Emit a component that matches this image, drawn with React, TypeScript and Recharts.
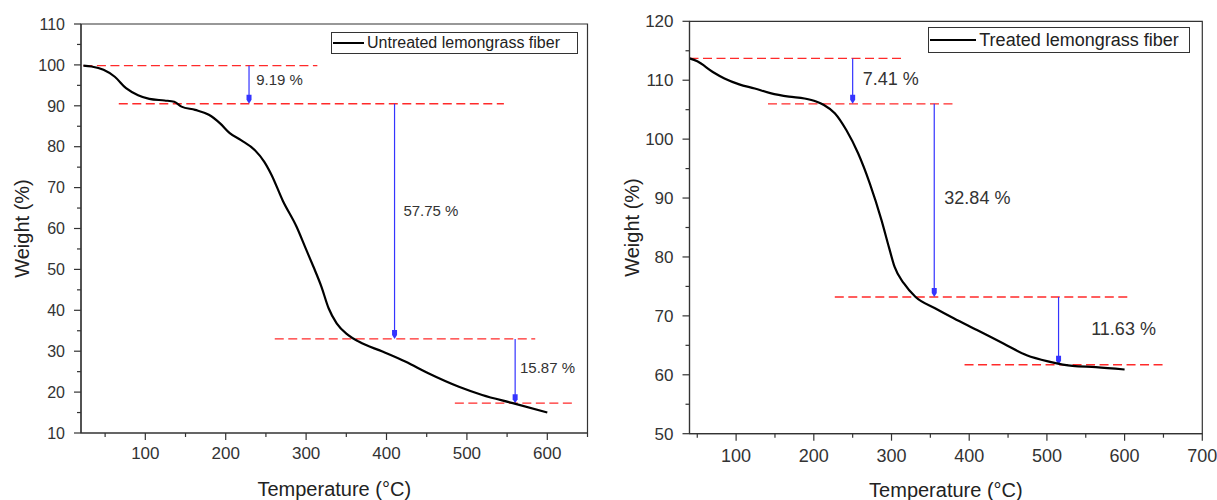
import React from 'react';
import {
  LineChart,
  Line,
  XAxis,
  YAxis,
  ReferenceLine,
  ReferenceArea,
  ReferenceDot,
  Legend,
} from 'recharts';

const FONT = '"Liberation Sans", Arial, Helvetica, sans-serif';
const AXIS = '#333';
const TEXT = '#333';
const RED = '#ff2a2a';
const BLUE = '#3434ff';

// ---- untreated fiber (left panel) ----
const untreatedTemp = [23, 33, 48, 62, 76, 91, 105, 124, 136, 145, 162, 179, 193, 205, 219, 236, 248, 257, 271, 288, 300, 309, 319, 328, 338, 352, 366, 395, 424, 452, 490, 519, 557, 600];
const untreatedWeight = [99.8, 99.6, 98.8, 97.1, 94.3, 92.6, 91.7, 91.3, 91.0, 89.8, 89.0, 87.8, 85.7, 83.3, 81.6, 79.2, 76.3, 73.1, 66.8, 60.5, 54.9, 50.7, 45.8, 40.5, 36.8, 34.0, 32.3, 29.9, 27.4, 24.6, 21.3, 19.3, 17.3, 15.0];
const untreatedLevels = [99.8, 90.5, 33.0, 17.3];
const untreatedLevelFrom = [23, 67, 261, 485];
const untreatedLevelTo = [314, 546, 585, 633];
const untreatedArrowTemp = [229, 410, 560];
const untreatedLoss = ['9.19 %', '57.75 %', '15.87 %'];
const untreatedLossTemp = [238, 421, 566];
const untreatedLossWeight = [96.3, 64.4, 25.9];
const untreatedXTicks = [50, 100, 150, 200, 250, 300, 350, 400, 450, 500, 550, 600, 650];
const untreatedYTicks = [10, 15, 20, 25, 30, 35, 40, 45, 50, 55, 60, 65, 70, 75, 80, 85, 90, 95, 100, 105, 110];

// ---- treated fiber (right panel) ----
const treatedTemp = [40, 50, 70, 85, 104, 124, 144, 168, 188, 203, 213, 227, 242, 257, 272, 287, 297, 304, 316, 331, 356, 380, 410, 444, 474, 504, 533, 563, 600];
const treatedWeight = [113.7, 113.2, 111.4, 110.3, 109.3, 108.6, 107.8, 107.2, 106.9, 106.4, 105.8, 104.4, 101.5, 97.6, 92.5, 86.3, 81.5, 78.3, 75.5, 73.2, 71.3, 69.6, 67.6, 65.3, 63.3, 62.2, 61.5, 61.3, 60.9];
const treatedLevels = [113.7, 106.0, 73.2, 61.7];
const treatedLevelFrom = [40, 141, 227, 394];
const treatedLevelTo = [316, 380, 607, 651];
const treatedArrowTemp = [250, 355, 515];
const treatedLoss = ['7.41 %', '32.84 %', '11.63 %'];
const treatedLossTemp = [263, 368, 557];
const treatedLossWeight = [110.2, 90, 67.75];
const treatedXTicks = [50, 100, 150, 200, 250, 300, 350, 400, 450, 500, 550, 600, 650, 700];
const treatedYTicks = [50, 55, 60, 65, 70, 75, 80, 85, 90, 95, 100, 105, 110, 115, 120];

function XTick({ x, y, payload, fontSize, base }: any) {
  const major = payload.value % 100 === 0;
  return (
    <g>
      <line x1={x} x2={x} y1={y} y2={y + (major ? 7 : 4)} stroke={AXIS} strokeWidth={1.2} />
      {major ? (
        <text x={x} y={y + base} textAnchor="middle" fontSize={fontSize} fontFamily={FONT} fill={TEXT}>
          {payload.value}
        </text>
      ) : null}
    </g>
  );
}

function YTick({ x, y, payload, fontSize }: any) {
  const major = payload.value % 10 === 0;
  return (
    <g>
      <line x1={x} x2={x - (major ? 7 : 4)} y1={y} y2={y} stroke={AXIS} strokeWidth={1.2} />
      {major ? (
        <text x={x - 16} y={y} dy="0.36em" textAnchor="end" fontSize={fontSize} fontFamily={FONT} fill={TEXT}>
          {payload.value}
        </text>
      ) : null}
    </g>
  );
}

// vertical blue arrow, head at the lower level
function Arrow({ x1, y1, x2, y2 }: any) {
  return (
    <g>
      <line x1={x1} y1={y1} x2={x2} y2={y2 - 4} stroke={BLUE} strokeWidth={1.2} />
      <polygon points={`${x2 - 2.5},${y2 - 9} ${x2 + 2.5},${y2 - 9} ${x2 + 2.5},${y2 - 4} ${x2},${y2} ${x2 - 2.5},${y2 - 4}`} fill={BLUE} />
    </g>
  );
}

function LegendBox({ name, width, height, sample, fontSize }: any) {
  return (
    <div
      style={{
        boxSizing: 'border-box',
        width,
        height,
        border: `1px solid ${AXIS}`,
        background: '#fff',
        display: 'flex',
        alignItems: 'center',
        fontFamily: FONT,
        fontSize,
        color: '#222',
        whiteSpace: 'nowrap',
        lineHeight: 1,
      }}
    >
      <span style={{ display: 'inline-block', width: sample, height: 2, background: '#000', marginLeft: 1 }} />
      <span style={{ marginLeft: 3 }}>{name}</span>
    </div>
  );
}

function TgaPanel(p: any) {
  const data = p.temp.map((t: number, i: number) => ({ t, w: p.weight[i] }));
  const [xmin, xmax] = p.xDomain;
  const [ymin, ymax] = p.yDomain;
  return (
    <LineChart width={p.width} height={500} data={data} margin={p.margin}>
      <XAxis
        dataKey="t"
        type="number"
        domain={p.xDomain}
        ticks={p.xTicks}
        interval={0}
        allowDataOverflow
        height={p.xAxisHeight}
        tickSize={0}
        tickMargin={0}
        tickLine={false}
        axisLine={{ stroke: AXIS, strokeWidth: 1.2 }}
        tick={(t: any) => <XTick {...t} fontSize={p.xTickFont} base={p.xTickBase} />}
        label={{
          content: ({ viewBox }: any) => (
            <text
              x={viewBox.x + viewBox.width / 2}
              y={viewBox.y + 56}
              dy="0.35em"
              textAnchor="middle"
              fontSize={20}
              fontFamily={FONT}
              fill="#222"
            >
              Temperature (°C)
            </text>
          ),
        }}
      />
      <YAxis
        type="number"
        domain={p.yDomain}
        ticks={p.yTicks}
        interval={0}
        allowDataOverflow
        width={p.yAxisWidth}
        tickSize={0}
        tickMargin={0}
        tickLine={false}
        axisLine={{ stroke: AXIS, strokeWidth: 1.2 }}
        tick={(t: any) => <YTick {...t} fontSize={p.yTickFont} />}
        label={{
          content: ({ viewBox }: any) => {
            const cx = viewBox.x + 22;
            const cy = viewBox.y + viewBox.height / 2;
            return (
              <text
                x={cx}
                y={cy}
                dy="0.35em"
                transform={`rotate(-90 ${cx} ${cy})`}
                textAnchor="middle"
                fontSize={20}
                fontFamily={FONT}
                fill="#222"
              >
                Weight (%)
              </text>
            );
          },
        }}
      />
      <ReferenceArea x1={xmin} x2={xmax} y1={ymin} y2={ymax} fill="none" stroke={AXIS} strokeWidth={1.2} />
      {p.levels.map((lv: number, i: number) => (
        <ReferenceLine
          key={`lv${i}`}
          segment={[
            { x: p.levelFrom[i], y: lv },
            { x: p.levelTo[i], y: lv },
          ]}
          stroke={RED}
          strokeWidth={1.3}
          strokeDasharray="9 4.5"
        />
      ))}
      {p.arrowTemp.map((t: number, i: number) => (
        <ReferenceLine
          key={`ar${i}`}
          segment={[
            { x: t, y: p.levels[i] },
            { x: t, y: p.levels[i + 1] },
          ]}
          shape={(s: any) => <Arrow {...s} />}
        />
      ))}
      {p.loss.map((txt: string, i: number) => (
        <ReferenceDot
          key={`lb${i}`}
          x={p.lossTemp[i]}
          y={p.lossWeight[i]}
          r={1}
          shape={(s: any) => (
            <text x={s.cx} y={s.cy} dy="0.35em" fontSize={p.lossFont} fontFamily={FONT} fill={TEXT}>
              {txt}
            </text>
          )}
        />
      ))}
      <Line
        type="monotone"
        dataKey="w"
        name={p.name}
        stroke="#000"
        strokeWidth={2.2}
        dot={false}
        isAnimationActive={false}
      />
      <Legend
        layout="horizontal"
        verticalAlign="middle"
        align="center"
        wrapperStyle={{ left: p.legend.left, top: p.legend.top, width: p.legend.width, height: p.legend.height }}
        content={() => (
          <LegendBox
            name={p.name}
            width={p.legend.width}
            height={p.legend.height}
            sample={p.legend.sample}
            fontSize={p.legend.font}
          />
        )}
      />
    </LineChart>
  );
}

export default function App() {
  return (
    <div style={{ position: 'absolute', left: 0, top: 0, width: 1217, height: 500, background: '#fff' }}>
      <div style={{ position: 'absolute', left: 0, top: 0 }}>
        <TgaPanel
          name="Untreated lemongrass fiber"
          width={610}
          margin={{ top: 24, right: 22.5, bottom: 0, left: 0 }}
          yAxisWidth={81}
          xAxisHeight={67}
          temp={untreatedTemp}
          weight={untreatedWeight}
          xDomain={[20, 650]}
          yDomain={[10, 110]}
          xTicks={untreatedXTicks}
          yTicks={untreatedYTicks}
          xTickFont={17}
          xTickBase={26}
          yTickFont={16}
          levels={untreatedLevels}
          levelFrom={untreatedLevelFrom}
          levelTo={untreatedLevelTo}
          arrowTemp={untreatedArrowTemp}
          loss={untreatedLoss}
          lossTemp={untreatedLossTemp}
          lossWeight={untreatedLossWeight}
          lossFont={15}
          legend={{ left: 331, top: 31.5, width: 246.5, height: 22.5, sample: 31, font: 16 }}
        />
      </div>
      <div style={{ position: 'absolute', left: 610, top: 0 }}>
        <TgaPanel
          name="Treated lemongrass fiber"
          width={607}
          margin={{ top: 21.3, right: 14.7, bottom: 0, left: 0 }}
          yAxisWidth={79.5}
          xAxisHeight={66.3}
          temp={treatedTemp}
          weight={treatedWeight}
          xDomain={[40, 700]}
          yDomain={[50, 120]}
          xTicks={treatedXTicks}
          yTicks={treatedYTicks}
          xTickFont={18}
          xTickBase={28}
          yTickFont={17}
          levels={treatedLevels}
          levelFrom={treatedLevelFrom}
          levelTo={treatedLevelTo}
          arrowTemp={treatedArrowTemp}
          loss={treatedLoss}
          lossTemp={treatedLossTemp}
          lossWeight={treatedLossWeight}
          lossFont={18}
          legend={{ left: 318.3, top: 26.7, width: 262.2, height: 26.6, sample: 46, font: 18 }}
        />
      </div>
    </div>
  );
}
